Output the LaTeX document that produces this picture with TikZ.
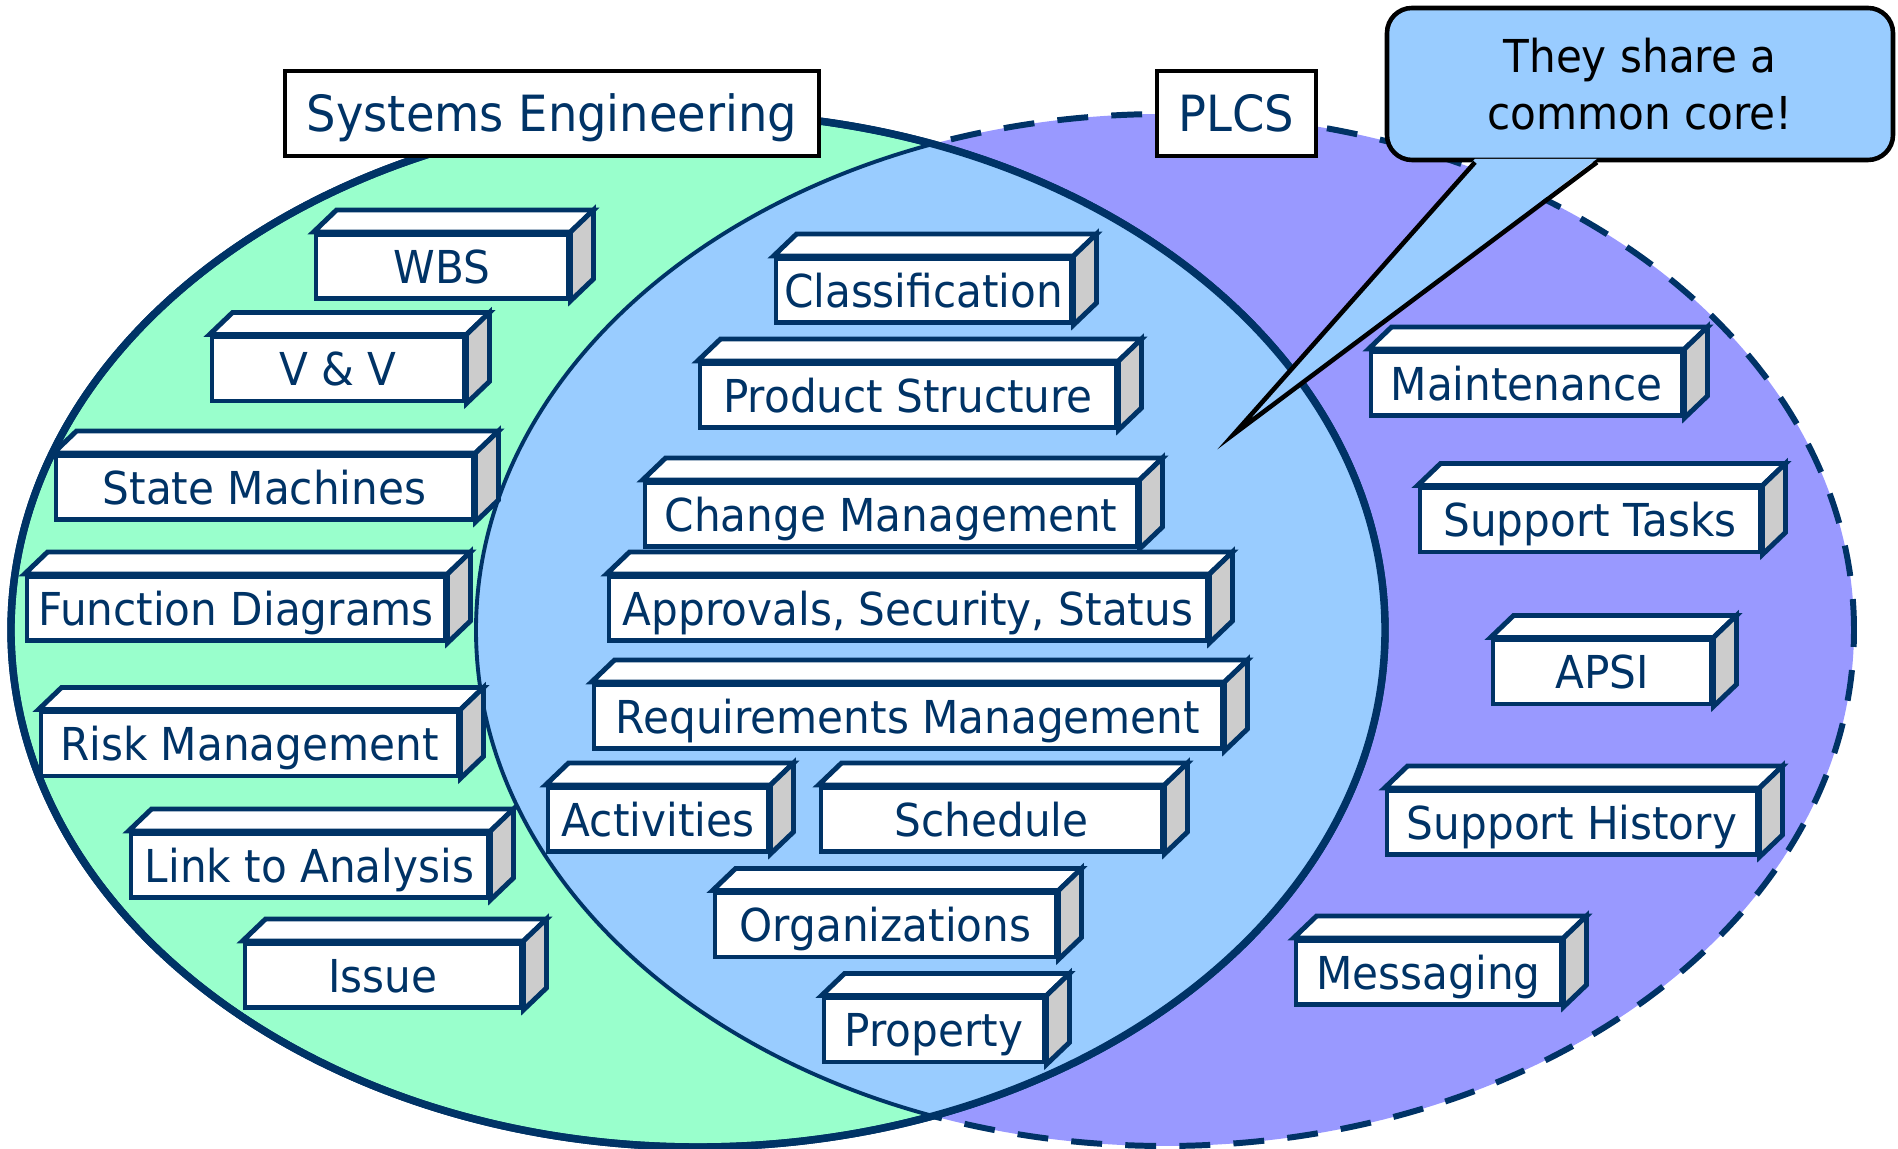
\documentclass[tikz,border=0pt]{standalone}
\usepackage{fontspec}
\usepackage{tikz}
\usepackage{xcolor}
\newfontfamily\diagfont[FakeStretch=0.93]{DejaVu Sans}
\definecolor{navy}{HTML}{003366}
\definecolor{seGreen}{HTML}{99FFCC}
\definecolor{plcsPurple}{HTML}{9999FF}
\definecolor{coreBlue}{HTML}{99CCFF}
\definecolor{sideGrey}{HTML}{CCCCCC}

\begin{document}
\begin{tikzpicture}[
    block/.style={draw=navy, line width=1.4pt, fill=white, inner sep=0pt,
        minimum height=0.64cm, text height=9.4pt, text depth=0pt,
        text=navy, font=\diagfont\fontsize{12.9}{15}\selectfont},
    tag/.style={draw=black, line width=1.4pt, fill=white, inner sep=0pt,
        minimum height=0.85cm, text height=10.35pt, text depth=0pt,
        text=navy, font=\diagfont\fontsize{14.2}{17}\selectfont},
    face/.style={draw=navy, line width=1.4pt}
]
\useasboundingbox (0,0) rectangle (18.98,11.49);

% the two sets and their common core
\fill[plcsPurple] (11.65,5.19) ellipse (6.89 and 5.16);
\draw[navy, line width=1.7pt, dash pattern=on 8.8pt off 6.6pt] (11.65,5.19) ellipse (6.89 and 5.16);
\filldraw[fill=seGreen, draw=navy, line width=2.1pt] (6.98,5.19) ellipse (6.87 and 5.17);
\begin{scope}
    \clip (6.98,5.19) ellipse (6.87 and 5.17);
    \filldraw[fill=coreBlue, draw=navy, line width=1.1pt] (11.65,5.19) ellipse (6.89 and 5.16);
\end{scope}
\draw[navy, line width=2.1pt] (6.98,5.19) ellipse (6.87 and 5.17);

% systems engineering only
\node[block, minimum width=2.52cm] (wbs) at (4.42,8.825) {WBS};
\node[block, minimum width=2.52cm] (vv) at (3.38,7.80) {V \& V};
\node[block, minimum width=4.17cm] (sm) at (2.645,6.615) {State Machines};
\node[block, minimum width=4.18cm] (fd) at (2.36,5.405) {Function Diagrams};
\node[block, minimum width=4.17cm] (rm) at (2.495,4.05) {Risk Management};
\node[block, minimum width=3.57cm] (la) at (3.095,2.835) {Link to Analysis};
\node[block, minimum width=2.76cm] (iss) at (3.83,1.735) {Issue};

% common core
\node[block, minimum width=2.95cm] (cls) at (9.235,8.585) {Classification};
\node[block, minimum width=4.16cm] (ps) at (9.08,7.535) {Product Structure};
\node[block, minimum width=4.92cm] (cm) at (8.91,6.345) {Change Management};
\node[block, minimum width=5.98cm] (ass) at (9.08,5.405) {Approvals, Security, Status};
\node[block, minimum width=6.28cm] (rqm) at (9.08,4.325) {Requirements Management};
\node[block, minimum width=2.20cm] (act) at (6.58,3.295) {Activities};
\node[block, minimum width=3.41cm] (sch) at (9.915,3.295) {Schedule};
\node[block, minimum width=3.41cm] (org) at (8.855,2.24) {Organizations};
\node[block, minimum width=2.20cm] (prp) at (9.34,1.19) {Property};

% plcs only
\node[block, minimum width=3.11cm] (mnt) at (15.265,7.655) {Maintenance};
\node[block, minimum width=3.40cm] (st) at (15.90,6.29) {Support Tasks};
\node[block, minimum width=2.18cm] (apsi) at (16.02,4.77) {APSI};
\node[block, minimum width=3.70cm] (sh) at (15.72,3.265) {Support History};
\node[block, minimum width=2.65cm] (msg) at (14.285,1.765) {Messaging};

% top and side of each block
\foreach \b in {wbs,vv,sm,fd,rm,la,iss,cls,ps,cm,ass,rqm,act,sch,org,prp,mnt,st,apsi,sh,msg}{
    \filldraw[face, fill=white] (\b.north west) -- ([shift={(0.23,0.22)}]\b.north west)
        -- ([shift={(0.23,0.22)}]\b.north east) -- (\b.north east) -- cycle;
    \filldraw[face, fill=sideGrey] (\b.north east) -- ([shift={(0.23,0.22)}]\b.north east)
        -- ([shift={(0.23,0.22)}]\b.south east) -- (\b.south east) -- cycle;
}

% set names
\node[tag, minimum width=5.34cm] (se) at (5.52,10.355) {Systems Engineering};
\node[tag, minimum width=1.59cm] (plcs) at (12.365,10.355) {PLCS};

% callout
\node[draw=black, line width=1.3pt, fill=coreBlue, rounded corners=0.25cm,
    minimum width=5.06cm, minimum height=1.52cm, align=center,
    font=\diagfont\fontsize{12.9}{16.3}\selectfont] (call) at (16.40,10.65) {They share a\\common core!};
\coordinate (tip) at (12.34,7.15);
\fill[coreBlue] ([xshift=-1.65cm,yshift=1pt]call.south) -- (tip) -- ([xshift=-0.43cm,yshift=1pt]call.south) -- cycle;
\draw[line width=1.3pt] ([xshift=-1.65cm]call.south) -- (tip) -- ([xshift=-0.43cm]call.south);
\end{tikzpicture}
\end{document}
